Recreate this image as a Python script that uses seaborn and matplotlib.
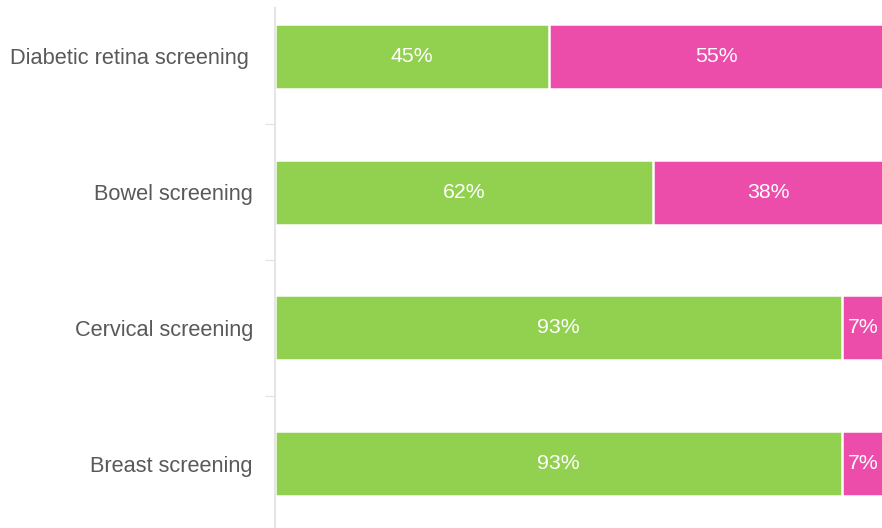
import matplotlib.pyplot as plt
import matplotlib.transforms as mtransforms
import pandas as pd
import seaborn as sns

categories = ["Diabetic retina screening", "Bowel screening", "Cervical screening", "Breast screening"]
green_vals = [45, 62, 93, 93]
pink_vals = [55, 38, 7, 7]

GREEN = "#92d050"
PINK = "#ec4dab"

df = pd.DataFrame({"cat": categories, "green": green_vals, "pink": pink_vals})
df["total"] = df["green"] + df["pink"]

sns.set_theme(style="white")
plt.rcParams["font.family"] = ["Liberation Sans", "DejaVu Sans"]

fig = plt.figure(figsize=(8.82, 5.28), dpi=100)
ax = fig.add_axes([275 / 882, 0.0, 1 - 275 / 882, 1 - 8 / 528])

sns.barplot(data=df, y="cat", x="total", color=PINK, orient="h", width=0.48,
            edgecolor="white", linewidth=1.8, saturation=1, ax=ax)
sns.barplot(data=df, y="cat", x="green", color=GREEN, orient="h", width=0.48,
            edgecolor="white", linewidth=1.8, saturation=1, ax=ax)

for i, (g, p) in enumerate(zip(green_vals, pink_vals)):
    ax.text(g / 2, i, f"{g}%", ha="center", va="center", color="white", fontsize=15.3)
    ax.text(g + p / 2, i, f"{p}%", ha="center", va="center", color="white", fontsize=15.3)

ax.set_xlim(0, 99.6)
ax.set_ylim(3.475, -0.357)
ax.set_xlabel("")
ax.set_ylabel("")
ax.set_xticks([])
ax.tick_params(axis="y", which="major", left=False, length=0, pad=15.9, labelsize=15.7, labelcolor="#595959")
ax.set_yticks([0.5, 1.5, 2.5], minor=True)
ax.tick_params(axis="y", which="minor", left=True, length=7, width=1, color="#e6e6e6", direction="out")

# first label sits a little further left in the original
lbl = ax.get_yticklabels()[0]
lbl.set_transform(lbl.get_transform() + mtransforms.ScaledTranslation(-4 / 100, 0, fig.dpi_scale_trans))

for s in ["top", "right", "bottom"]:
    ax.spines[s].set_visible(False)
ax.spines["left"].set_color("#e6e6e6")
ax.spines["left"].set_linewidth(1.5)

fig.savefig("out.png", dpi=100)
